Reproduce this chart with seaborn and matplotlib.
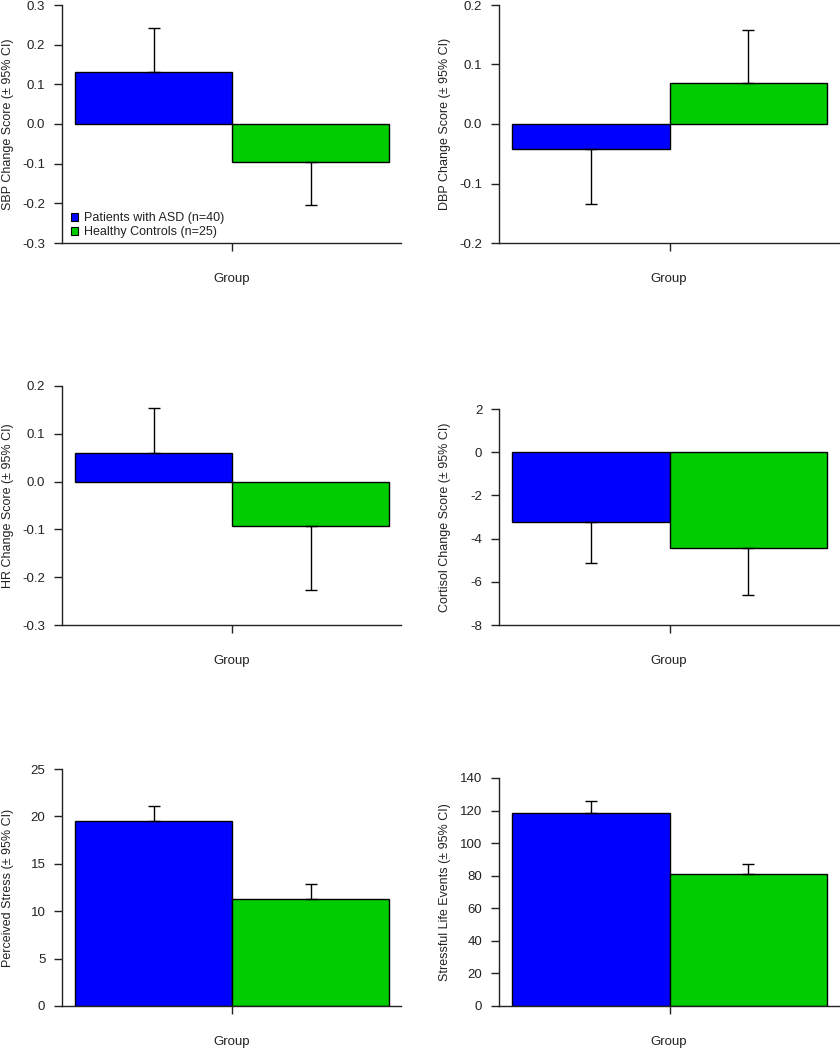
import pandas as pd
import matplotlib.pyplot as plt
import seaborn as sns
from matplotlib.patches import Patch
from matplotlib.ticker import FormatStrFormatter

sns.set_style("ticks")
plt.rcParams["font.family"] = ["Liberation Sans", "DejaVu Sans"]
plt.rcParams["axes.unicode_minus"] = False

groups = ["Patients with ASD (n=40)", "Healthy Controls (n=25)"]
colors = ["#0000FF", "#00CD00"]

sbp_mean = [0.130, -0.097]
sbp_ci = [0.112, 0.107]
dbp_mean = [-0.042, 0.069]
dbp_ci = [0.093, 0.089]
hr_mean = [0.060, -0.093]
hr_ci = [0.094, 0.133]
cort_mean = [-3.23, -4.43]
cort_ci = [1.90, 2.19]
pss_mean = [19.5, 11.3]
pss_ci = [1.55, 1.6]
sle_mean = [118.8, 81.0]
sle_ci = [6.9, 6.1]

W, H = 840, 1050
fig = plt.figure(figsize=(W / 100, H / 100), dpi=100)
txt = "#222222"


def panel(box, means, cis, ylim, step, fmt, ylabel):
    x0, y0, x1, y1 = box
    w, h = x1 - x0, y1 - y0
    ax = fig.add_axes([x0 / W, 1 - y1 / H, w / W, h / H])
    df = pd.DataFrame({"group": groups, "value": means})
    sns.barplot(data=df, x="group", y="value", hue="group", palette=colors,
                saturation=1, width=1, edgecolor="black", linewidth=1,
                errorbar=None, legend=False, ax=ax)
    # one-sided error bars, away from zero
    lo = [c if m < 0 else 0 for m, c in zip(means, cis)]
    hi = [c if m >= 0 else 0 for m, c in zip(means, cis)]
    ax.errorbar([0, 1], means, yerr=[lo, hi], fmt="none", ecolor="black",
                elinewidth=1, capsize=4, capthick=1)
    ax.set_xlim(-0.583, 1.576)
    ax.set_ylim(*ylim)
    n = round((ylim[1] - ylim[0]) / step)
    ax.set_yticks([ylim[0] + i * step for i in range(n + 1)])
    ax.yaxis.set_major_formatter(FormatStrFormatter(fmt))
    ax.set_xticks([0.5])
    ax.set_xticklabels([""])
    ax.set_xlabel("Group", fontsize=9.5, color=txt, va="center")
    ax.xaxis.set_label_coords(0.5, -36 / h)
    ax.set_ylabel(ylabel, fontsize=9, color=txt, va="center")
    ax.yaxis.set_label_coords(-54 / w, 0.5)
    ax.tick_params(axis="both", length=6, width=1, color="#222222",
                   labelsize=9.5, labelcolor=txt, pad=4)
    ax.tick_params(axis="y", pad=6)
    for s in ["top", "right"]:
        ax.spines[s].set_visible(False)
    for s in ["left", "bottom"]:
        ax.spines[s].set_linewidth(1)
        ax.spines[s].set_color("#222222")
    ax.set_facecolor("white")
    return ax


ax1 = panel((62, 5, 401, 243), sbp_mean, sbp_ci, (-0.3, 0.3), 0.1, "%.1f",
            "SBP Change Score (\u00b1 95% CI)")
handles = [Patch(facecolor=c, edgecolor="black", linewidth=0.8) for c in colors]
ax1.legend(handles, groups, loc="upper left", bbox_to_anchor=(0.0, 0.165),
           frameon=False, fontsize=9, handlelength=0.6, handleheight=0.7,
           handletextpad=0.5, labelspacing=0.15, borderpad=0.2,
           labelcolor=txt)

panel((499, 5, 839, 243), dbp_mean, dbp_ci, (-0.2, 0.2), 0.1, "%.1f",
      "DBP Change Score (\u00b1 95% CI)")
panel((62, 386, 401, 625), hr_mean, hr_ci, (-0.3, 0.2), 0.1, "%.1f",
      "HR Change Score (\u00b1 95% CI)")
panel((499, 409, 839, 625), cort_mean, cort_ci, (-8, 2), 2, "%d",
      "Cortisol Change Score (\u00b1 95% CI)")
panel((62, 769, 401, 1006), pss_mean, pss_ci, (0, 25), 5, "%d",
      "Perceived Stress (\u00b1 95% CI)")
panel((499, 778, 839, 1006), sle_mean, sle_ci, (0, 140), 20, "%d",
      "Stressful Life Events (\u00b1 95% CI)")

fig.savefig("out.png", dpi=100, facecolor="white")
